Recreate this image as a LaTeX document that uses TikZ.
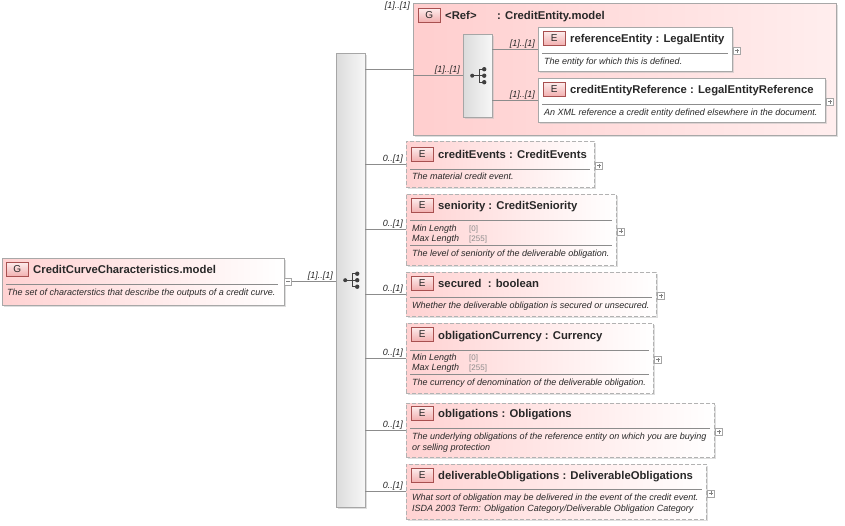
\documentclass[tikz,border=0pt]{standalone}
\usepackage{fontspec}
\setmainfont{Liberation Sans}
\usetikzlibrary{positioning,shadows}

\definecolor{elpink}{RGB}{255,210,210}
\definecolor{grppink}{RGB}{255,206,206}
\definecolor{grplight}{RGB}{255,238,238}
\definecolor{badgered}{RGB}{168,80,80}
\definecolor{badgetop}{RGB}{253,236,236}
\definecolor{badgebot}{RGB}{242,176,176}
\definecolor{edgegray}{RGB}{168,168,168}
\definecolor{txtgray}{RGB}{40,40,40}

\tikzset{
  boxshadow/.style={drop shadow={shadow xshift=1.5pt,shadow yshift=-1.5pt,fill=black!25}},
  elembox/.style={draw=edgegray, left color=elpink, right color=white, boxshadow, anchor=north west, inner sep=0pt},
  optbox/.style={elembox, draw=black!30, dash pattern=on 4pt off 2pt},
  refbox/.style={draw=edgegray, fill=white, boxshadow, anchor=north west, inner sep=0pt},
  grpbox/.style={draw=edgegray, left color=grppink, right color=grplight, boxshadow, anchor=north west, inner sep=0pt},
  seqbox/.style={draw=black!35, left color=black!14, right color=black!3, boxshadow, anchor=north west, inner sep=0pt},
  badge/.style={draw=badgered, top color=badgetop, bottom color=badgebot, minimum width=22pt, minimum height=14pt,
    inner sep=0pt, anchor=north west, font=\fontsize{10}{10}\selectfont, text=txtgray},
  elname/.style={anchor=base west, inner sep=0pt, font=\fontsize{11.3}{13}\selectfont\bfseries, text=txtgray},
  desc/.style={anchor=base west, inner sep=0pt, font=\fontsize{9}{11}\selectfont\itshape, text=txtgray},
  facetval/.style={anchor=base west, inner sep=0pt, font=\fontsize{8}{9}\selectfont, text=black!45},
  sepline/.style={draw=black!45},
  card/.style={anchor=south east, inner sep=0pt, font=\fontsize{9}{10}\selectfont\itshape, text=txtgray},
  plusbox/.style={draw=black!35, fill=white, minimum size=7pt, inner sep=0pt, anchor=west},
  glyph/.style={draw=black!50, line width=0.5pt},
  link/.style={draw=black!45, line width=0.6pt}
}

\begin{document}
\begin{tikzpicture}[x=1pt,y=-1pt]
\useasboundingbox[fill=white] (0,0) rectangle (845,525);

% sequence compositor
\node[seqbox, minimum width=29pt, minimum height=454pt] (seq) at (336,53) {};

% model group on the left
\node[elembox, minimum width=282pt, minimum height=47pt] (cmodel) at (2,258) {};
\node[badge] (cmodel-b) at (6,262) {G};
\node[elname] (cmodel-n) at (33,273) {CreditCurveCharacteristics.model};
\draw[sepline] (6,284) -- (278,284);
\node[desc] (cmodel-d) at (7,295) {The set of characterstics that describe the outputs of a credit curve.};
\node[plusbox] (cmodel-m) at (cmodel.east) {};
\draw[glyph] ([xshift=-2pt]cmodel-m.center) -- ([xshift=2pt]cmodel-m.center);
\draw[link] (cmodel-m.east) -- (cmodel-m.east -| seq.west);
\node[card] (cmodel-c) at ([xshift=-3pt,yshift=1pt]cmodel-m.east -| seq.west) {[1]..[1]};

% referenced group
\node[grpbox, minimum width=423pt, minimum height=132pt] (grp) at (413,3) {};
\node[badge] (grp-b) at (418,8) {G};
\node[elname] (grp-r) at (445,19) {<Ref>};
\node[elname] (grp-n) at (497,19) {: CreditEntity.model};
\node[card, anchor=north east] (grp-c) at ([xshift=-3pt,yshift=1pt]grp.north west) {[1]..[1]};
\node[seqbox, minimum width=29pt, minimum height=83pt] (rseq) at (463,34) {};

\node[refbox, minimum width=194pt, minimum height=44pt] (rent) at (538,27) {};
\node[badge] (rent-b) at (543,31) {E};
\node[elname] (rent-n) at (570,42) {referenceEntity : LegalEntity};
\draw[sepline] (542,53) -- (728,53);
\node[desc] (rent-d) at (544,64) {The entity for which this is defined.};

\node[refbox, minimum width=287pt, minimum height=44pt] (cer) at (538,78) {};
\node[badge] (cer-b) at (543,82) {E};
\node[elname] (cer-n) at (570,93) {creditEntityReference : LegalEntityReference};
\draw[sepline] (542,104) -- (821,104);
\node[desc] (cer-d) at (544,115) {An XML reference a credit entity defined elsewhere in the document.};

\draw[link] (seq.east |- grp.west) -- (grp.west);
\draw[link] (grp.west |- rseq.west) -- (rseq.west);
\node[card] (rseq-c) at ([xshift=-3pt,yshift=1pt]rseq.west) {[1]..[1]};
\foreach \e in {rent,cer} {
  \draw[link] (rseq.east |- \e.west) -- (\e.west);
  \node[card] (\e-c) at ([xshift=-3pt,yshift=1pt]\e.west) {[1]..[1]};
}

% optional elements
\node[optbox, minimum width=188pt, minimum height=46pt] (ce) at (406,141) {};
\node[badge] (ce-b) at (411,147) {E};
\node[elname] (ce-n) at (438,158) {creditEvents : CreditEvents};
\draw[sepline] (410,169) -- (590,169);
\node[desc] (ce-d) at (412,179) {The material credit event.};

\node[optbox, minimum width=210pt, minimum height=71pt] (sen) at (406,194) {};
\node[badge] (sen-b) at (411,198) {E};
\node[elname] (sen-n) at (438,209) {seniority : CreditSeniority};
\draw[sepline] (410,220) -- (612,220);
\node[desc] (sen-f1) at (412,231) {Min Length};
\node[facetval] (sen-v1) at (469,231) {[0]};
\node[desc] (sen-f2) at (412,241) {Max Length};
\node[facetval] (sen-v2) at (469,241) {[255]};
\draw[sepline] (410,245) -- (612,245);
\node[desc] (sen-d) at (412,256) {The level of seniority of the deliverable obligation.};

\node[optbox, minimum width=250pt, minimum height=44pt] (sec) at (406,272) {};
\node[badge] (sec-b) at (411,276) {E};
\node[elname] (sec-n) at (438,287) {secured\ \ : boolean};
\draw[sepline] (410,297) -- (652,297);
\node[desc] (sec-d) at (412,308) {Whether the deliverable obligation is secured or unsecured.};

\node[optbox, minimum width=247pt, minimum height=70pt] (cur) at (406,323) {};
\node[badge] (cur-b) at (411,327) {E};
\node[elname] (cur-n) at (438,339) {obligationCurrency : Currency};
\draw[sepline] (410,350) -- (649,350);
\node[desc] (cur-f1) at (412,360) {Min Length};
\node[facetval] (cur-v1) at (469,360) {[0]};
\node[desc] (cur-f2) at (412,370) {Max Length};
\node[facetval] (cur-v2) at (469,370) {[255]};
\draw[sepline] (410,374) -- (649,374);
\node[desc] (cur-d) at (412,385) {The currency of denomination of the deliverable obligation.};

\node[optbox, minimum width=308pt, minimum height=54pt] (obl) at (406,403) {};
\node[badge] (obl-b) at (411,406) {E};
\node[elname] (obl-n) at (438,417) {obligations : Obligations};
\draw[sepline] (410,428) -- (710,428);
\node[desc] (obl-d1) at (412,439) {The underlying obligations of the reference entity on which you are buying};
\node[desc] (obl-d2) at (412,450) {or selling protection};

\node[optbox, minimum width=300pt, minimum height=55pt] (del) at (406,464) {};
\node[badge] (del-b) at (411,468) {E};
\node[elname] (del-n) at (438,479) {deliverableObligations : DeliverableObligations};
\draw[sepline] (410,489) -- (702,489);
\node[desc] (del-d1) at (412,500) {What sort of obligation may be delivered in the event of the credit event.};
\node[desc] (del-d2) at (412,511) {ISDA 2003 Term: Obligation Category/Deliverable Obligation Category};

\foreach \e in {ce,sen,sec,cur,obl,del} {
  \draw[link] (seq.east |- \e.west) -- (\e.west);
  \node[card] (\e-c) at ([xshift=-3pt,yshift=1pt]\e.west) {0..[1]};
}
\foreach \e in {ce,sen,sec,cur,obl,del,rent,cer} {
  \node[plusbox] (\e-p) at ([xshift=1pt,yshift=-1.5pt]\e.east) {};
  \draw[glyph] ([xshift=-2pt]\e-p.center) -- ([xshift=2pt]\e-p.center)
    ([yshift=-2pt]\e-p.center) -- ([yshift=2pt]\e-p.center);
}

% sequence icons
\foreach \s in {seq,rseq} {
  \fill[black!75] ([xshift=-5.5pt]\s.center) circle (2pt);
  \draw[black!75, line width=0.8pt] ([xshift=-5.5pt]\s.center) -- ([xshift=1.5pt]\s.center);
  \draw[black!75, line width=0.8pt] ([xshift=1.5pt,yshift=6.5pt]\s.center) -- ([xshift=1.5pt,yshift=-6.5pt]\s.center);
  \foreach \d in {-6.5,0,6.5} {
    \draw[black!75, line width=0.8pt] ([xshift=1.5pt,yshift=\d pt]\s.center) -- ([xshift=6pt,yshift=\d pt]\s.center);
    \fill[black!75] ([xshift=6.5pt,yshift=\d pt]\s.center) circle (2.2pt);
  }
}
\end{tikzpicture}
\end{document}
